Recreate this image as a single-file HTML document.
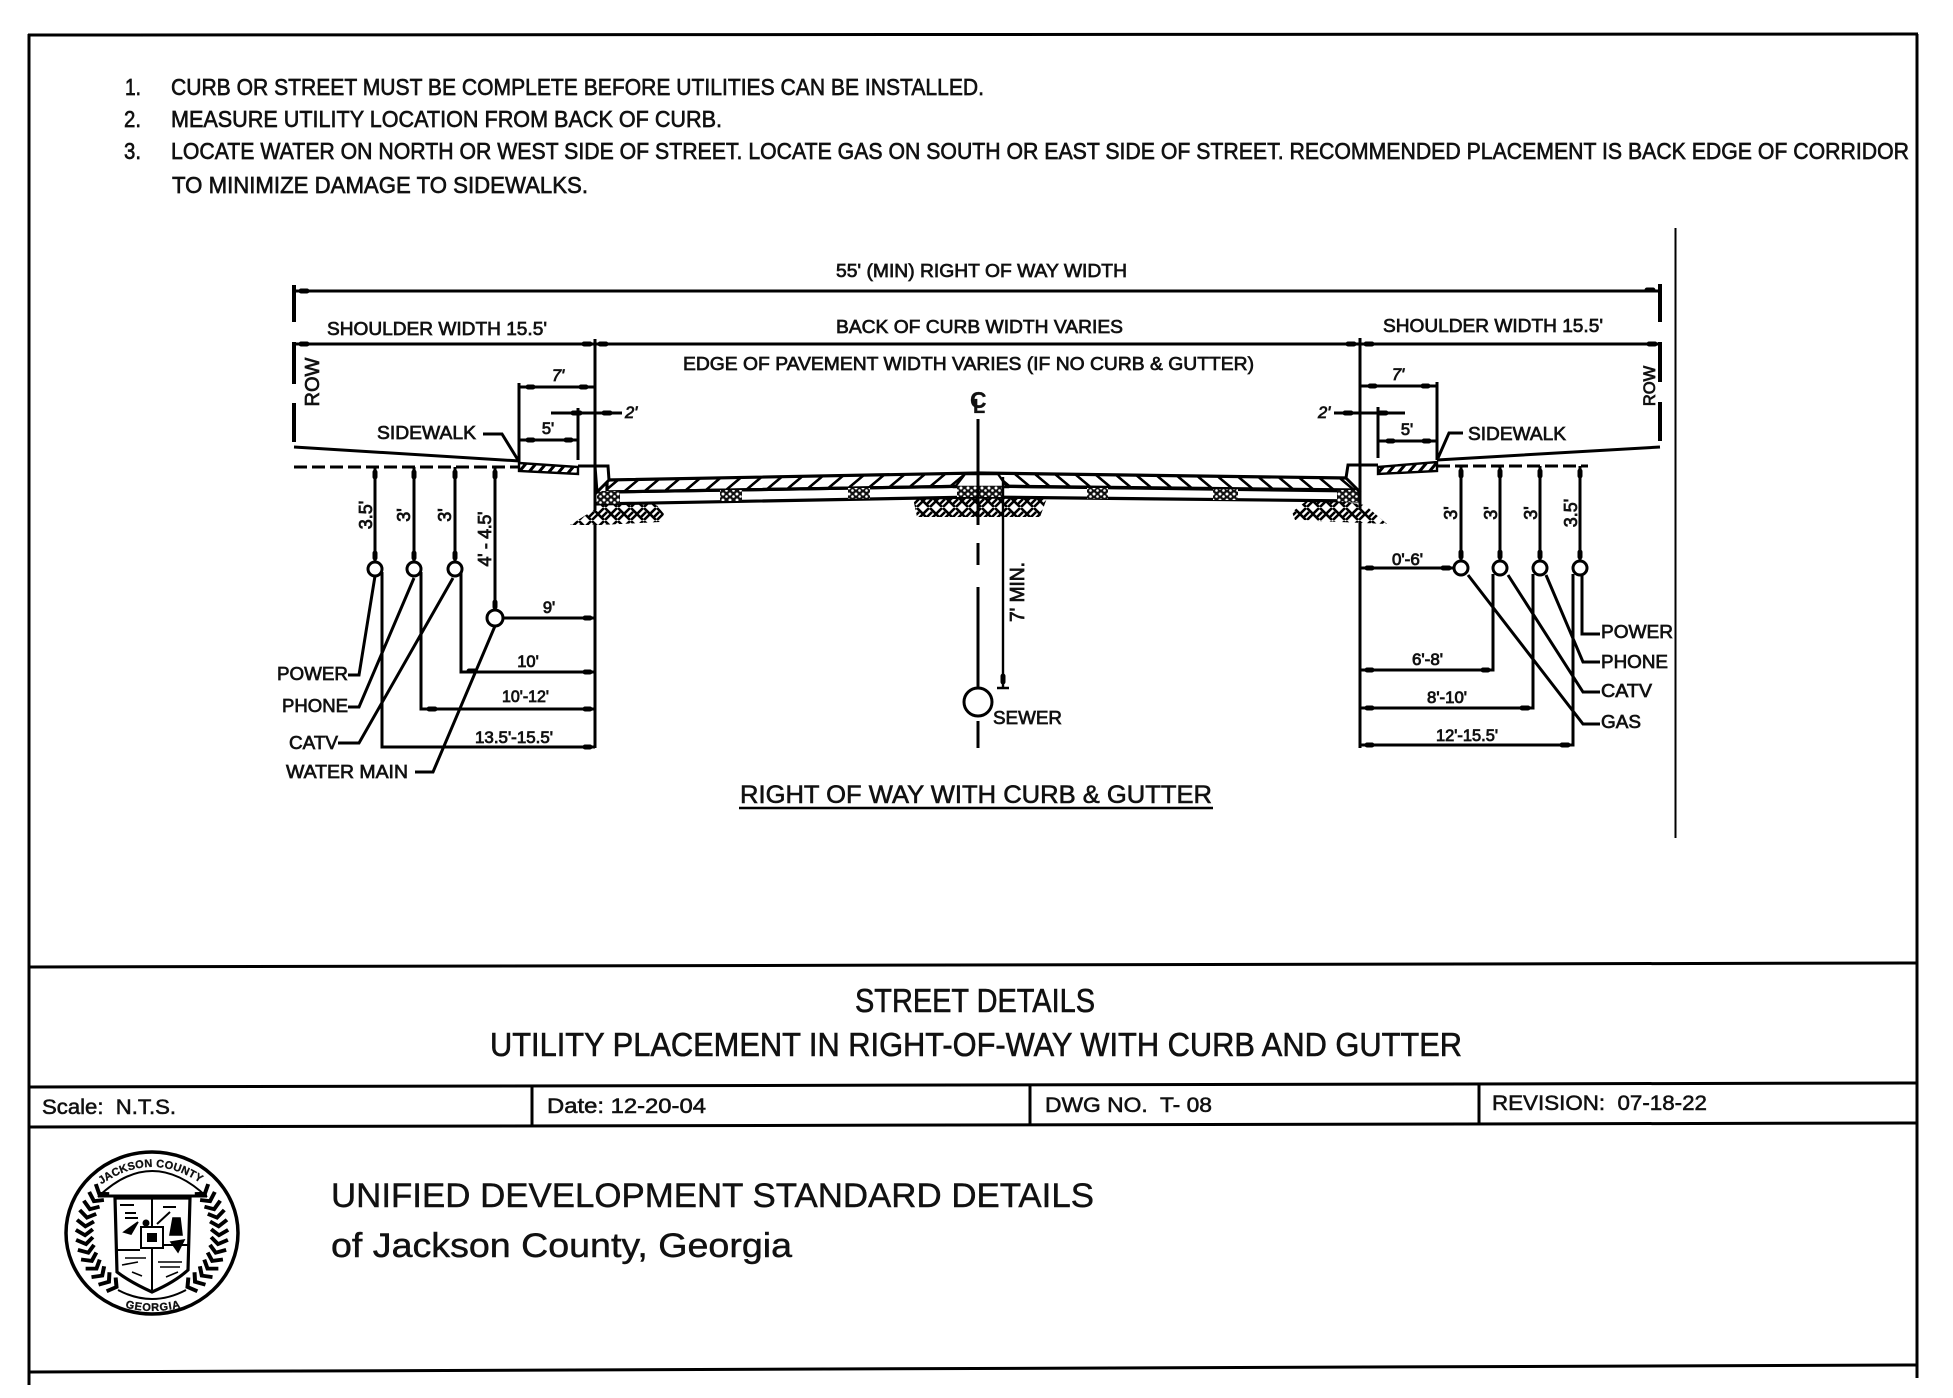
<!DOCTYPE html>
<html lang="en">
<head>
<meta charset="utf-8">
<title>Street Details T-08</title>
<style>
html,body{margin:0;padding:0;background:#fff}
svg{display:block}
text{font-family:"Liberation Sans",sans-serif;fill:#111;stroke:#111}
.n{font-size:23px;stroke-width:.65px}
.t{font-size:33px;stroke-width:.6px}
.c{font-size:21px;stroke-width:.55px;white-space:pre}
.u{font-size:34px;stroke-width:.45px}
.d{font-size:18.5px;stroke-width:.7px}
.s{font-size:16.5px;stroke-width:.8px}
.r{font-size:18px;stroke-width:.8px}
.l{stroke:#000;fill:none;stroke-width:3}
.f{stroke:#000;fill:none;stroke-width:3}
.a{stroke:#000;fill:none;stroke-width:5;stroke-linecap:round}
</style>
</head>
<body>
<svg xmlns="http://www.w3.org/2000/svg" width="1953" height="1398" viewBox="0 0 1953 1398">
<defs>
<pattern id="hl" patternUnits="userSpaceOnUse" width="20" height="20" patternTransform="skewX(-50)"><rect x="8" width="4" height="20" fill="#000"/></pattern>
<pattern id="hr" patternUnits="userSpaceOnUse" width="20" height="20" patternTransform="skewX(50)"><rect x="8" width="4" height="20" fill="#000"/></pattern>
<pattern id="hs" patternUnits="userSpaceOnUse" width="10" height="10" patternTransform="skewX(-40)"><rect x="3" width="4" height="10" fill="#000"/></pattern>
<pattern id="ex" patternUnits="userSpaceOnUse" width="13" height="13"><rect width="13" height="13" fill="#fff"/><path d="M0,7 L6,1 M3,11 L9,5 M7,13 L13,7 M7,1 L13,7 M0,7 L6,13" stroke="#000" stroke-width="2.6"/></pattern>
<pattern id="st" patternUnits="userSpaceOnUse" width="7" height="6"><rect width="7" height="6" fill="#111"/><circle cx="2" cy="2" r="1.5" fill="#fff"/><circle cx="5.5" cy="4.5" r="1.3" fill="#fff"/></pattern>
<path id="lf" d="M-76,-6 L-67,0 L-59,-6" fill="none" stroke="#000" stroke-width="4"/>
<path id="lg" d="M76,-6 L67,0 L59,-6" fill="none" stroke="#000" stroke-width="4"/>
</defs>
<rect width="1953" height="1398" fill="#fff"/>

<!-- frame -->
<g class="f">
<path class="f" d="M29,34 V1385"/>
<path class="f" d="M1917,34 V1378"/>
<path class="f" d="M28,35 L1918,34"/>
<path class="f" d="M29,967 L1917,963"/>
<path class="f" d="M29,1087 L1917,1083"/>
<path class="f" d="M29,1127 L1917,1123"/>
<path class="f" d="M29,1372 L1917,1365"/>
<path class="f" d="M532,1086 V1127"/>
<path class="f" d="M1030,1085 V1125"/>
<path class="f" d="M1479,1084 V1124"/>
</g>

<!-- notes -->
<text class="n" x="125" y="95" textLength="16" lengthAdjust="spacingAndGlyphs">1.</text>
<text class="n" x="171" y="95" textLength="813" lengthAdjust="spacingAndGlyphs">CURB OR STREET MUST BE COMPLETE BEFORE UTILITIES CAN BE INSTALLED.</text>
<text class="n" x="124" y="127" textLength="17" lengthAdjust="spacingAndGlyphs">2.</text>
<text class="n" x="171" y="127" textLength="551" lengthAdjust="spacingAndGlyphs">MEASURE UTILITY LOCATION FROM BACK OF CURB.</text>
<text class="n" x="124" y="159" textLength="17" lengthAdjust="spacingAndGlyphs">3.</text>
<text class="n" x="171" y="159" textLength="1738" lengthAdjust="spacingAndGlyphs">LOCATE WATER ON NORTH OR WEST SIDE OF STREET. LOCATE GAS ON SOUTH OR EAST SIDE OF STREET. RECOMMENDED PLACEMENT IS BACK EDGE OF CORRIDOR</text>
<text class="n" x="172" y="193" textLength="416" lengthAdjust="spacingAndGlyphs">TO MINIMIZE DAMAGE TO SIDEWALKS.</text>

<!-- title block -->
<text class="t" x="855" y="1012" textLength="240" lengthAdjust="spacingAndGlyphs">STREET DETAILS</text>
<text class="t" x="490" y="1056" textLength="972" lengthAdjust="spacingAndGlyphs">UTILITY PLACEMENT IN RIGHT-OF-WAY WITH CURB AND GUTTER</text>
<text class="c" x="42" y="1114" textLength="134" lengthAdjust="spacingAndGlyphs">Scale:  N.T.S.</text>
<text class="c" x="547" y="1113" textLength="159" lengthAdjust="spacingAndGlyphs">Date: 12-20-04</text>
<text class="c" x="1045" y="1112" textLength="167" lengthAdjust="spacingAndGlyphs">DWG NO.  T- 08</text>
<text class="c" x="1492" y="1110" textLength="215" lengthAdjust="spacingAndGlyphs">REVISION:  07-18-22</text>
<text class="u" x="331" y="1207" textLength="763" lengthAdjust="spacingAndGlyphs">UNIFIED DEVELOPMENT STANDARD DETAILS</text>
<text class="u" x="331" y="1257" textLength="461" lengthAdjust="spacingAndGlyphs">of Jackson County, Georgia</text>

<!-- seal -->
<ellipse cx="152" cy="1233" rx="86" ry="81" fill="#fff" stroke="#000" stroke-width="3.5"/>
<g transform="translate(152,1233) scale(1,.95)">
<use href="#lf" transform="rotate(38)"/><use href="#lf" transform="rotate(30)"/><use href="#lf" transform="rotate(22)"/><use href="#lf" transform="rotate(14)"/><use href="#lf" transform="rotate(6)"/><use href="#lf" transform="rotate(-2)"/><use href="#lf" transform="rotate(-10)"/><use href="#lf" transform="rotate(-18)"/><use href="#lf" transform="rotate(-26)"/><use href="#lf" transform="rotate(-34)"/><use href="#lf" transform="rotate(-42)"/><use href="#lf" transform="rotate(-50)"/><use href="#lf" transform="rotate(-58)"/>
<use href="#lg" transform="rotate(-38)"/><use href="#lg" transform="rotate(-30)"/><use href="#lg" transform="rotate(-22)"/><use href="#lg" transform="rotate(-14)"/><use href="#lg" transform="rotate(-6)"/><use href="#lg" transform="rotate(2)"/><use href="#lg" transform="rotate(10)"/><use href="#lg" transform="rotate(18)"/><use href="#lg" transform="rotate(26)"/><use href="#lg" transform="rotate(34)"/><use href="#lg" transform="rotate(42)"/><use href="#lg" transform="rotate(50)"/><use href="#lg" transform="rotate(58)"/>
</g>
<path d="M98,1197 Q152,1145 207,1197" fill="none" stroke="#000" stroke-width="2"/>
<path d="M118,1290 Q152,1308 186,1290" fill="none" stroke="#000" stroke-width="2"/>
<path id="ar1" d="M94,1190 Q152,1144 210,1190" fill="none"/>
<path id="ar2" d="M120,1306 Q152,1316 186,1306" fill="none"/>
<text font-size="11" font-weight="bold" style="stroke-width:.3px"><textPath href="#ar1" startOffset="7%" textLength="106" lengthAdjust="spacing">JACKSON COUNTY</textPath></text>
<text font-size="11" font-weight="bold" style="stroke-width:.3px"><textPath href="#ar2" startOffset="8%" textLength="56" lengthAdjust="spacing">GEORGIA</textPath></text>
<path d="M98,1196 H207" stroke="#000" stroke-width="3"/>
<path d="M115,1198 L117,1272 Q130,1282 152,1292 Q175,1282 188,1270 L190,1198 Z" fill="#fff" stroke="#000" stroke-width="3.2"/>
<path d="M152,1198 V1227 M152,1248 V1290 M118,1250 H140 M163,1245 H188 M120,1205 H134 M125,1213 H136 M125,1218 H138 M163,1207 H176 M157,1224 L170,1212" fill="none" stroke="#000" stroke-width="2"/>
<rect x="141" y="1227" width="22" height="21" fill="#fff" stroke="#000" stroke-width="2"/>
<rect x="147" y="1233" width="10" height="9" fill="#000"/>
<circle cx="146" cy="1223" r="3.5" fill="#000"/>
<path d="M124,1232 L138,1222 L131,1234 Z M173,1218 L180,1218 L182,1235 L170,1235 Z M171,1242 L184,1240 L178,1252 Z M125,1258 H146 M122,1265 L138,1262 M158,1262 H182 M160,1267 H180 M132,1272 L142,1276 M166,1277 L178,1272" fill="#000" stroke="#000" stroke-width="1.6"/>

<!-- right vertical rule -->
<path d="M1675.5,228 V838" stroke="#000" stroke-width="2"/>

<!-- top dims -->
<path class="l" d="M294,291 H1660"/>
<path class="f" style="stroke-width:4" d="M294,285 V322 M294,342 V384 M294,403 V442"/>
<path class="f" style="stroke-width:4" d="M1660,284 V322 M1660,342 V382 M1660,402 V441"/>
<path class="l" d="M294,344 H1660"/>
<path class="l" d="M595,339 V748"/>
<path class="l" d="M1360,338 V748"/>
<path class="a" d="M301,291 H307 M1647,290 H1653 M301,344 H307 M584,344 H590 M600,344 H606 M1348,344 H1354 M1366,344 H1372 M1649,344 H1655"/>

<!-- dims sidewalk left -->
<path class="l" d="M519,383 V462 M519,387 H595 M519,440 H578 M578,408 V460 M551,413 H622"/>
<path class="a" d="M528,387 H533 M581,387 H586 M528,440 H533 M566,440 H571 M573,413 H580 M604,413 H610"/>
<!-- dims sidewalk right -->
<path class="l" d="M1437,382 V460 M1360,386 H1437 M1378,441 H1437 M1378,407 V458 M1334,413 H1405"/>
<path class="a" d="M1370,386 H1375 M1423,386 H1428 M1388,441 H1393 M1424,441 H1429 M1345,413 H1351 M1380,413 H1386"/>

<!-- ground lines -->
<path class="l" d="M294,447 L520,461 M1660,447 L1437,460 M578,466 H596 M1360,465 H1378"/>
<path class="l" stroke-dasharray="13,5" d="M294,467 H519"/>
<path class="l" stroke-dasharray="13,5" d="M1437,466 H1588"/>
<polygon points="519,463 578,467 578,474 519,471" fill="url(#hs)" stroke="#000" stroke-width="2.4"/>
<polygon points="1378,467 1437,462 1437,471 1378,474" fill="url(#hs)" stroke="#000" stroke-width="2.4"/>

<!-- earth -->
<polygon points="570,525 597,508 600,503 655,503 664,514 660,522 600,525" fill="url(#ex)"/>
<polygon points="913,498 1047,498 1040,517 917,517" fill="url(#ex)"/>
<polygon points="1305,502 1345,502 1365,505 1387,524 1340,522 1295,520 1292,512" fill="url(#ex)"/>

<!-- road -->
<polygon points="607,492 978,486 1358,491 1358,501 978,497 597,504" fill="#fff" stroke="#000" stroke-width="3.2"/>
<polygon points="607,480 978,473 978,486 607,492" fill="url(#hl)" stroke="#000" stroke-width="3.2"/>
<polygon points="978,473 1347,478 1358,490 978,486" fill="url(#hr)" stroke="#000" stroke-width="3.2"/>
<polygon points="955,487 965,474 998,474 1007,487" fill="#fff" stroke="#000" stroke-width="2.4"/>
<rect x="597" y="491" width="23" height="13" fill="url(#st)"/>
<rect x="720" y="490" width="22" height="11" fill="url(#st)"/>
<rect x="848" y="488" width="22" height="11" fill="url(#st)"/>
<rect x="957" y="486" width="45" height="11" fill="url(#st)"/>
<rect x="1087" y="488" width="21" height="11" fill="url(#st)"/>
<rect x="1213" y="489" width="25" height="11" fill="url(#st)"/>
<rect x="1337" y="490" width="23" height="12" fill="url(#st)"/>
<polygon points="595,466 608,466 609,480 597,492" fill="#fff" stroke="#000" stroke-width="3"/>
<polygon points="1360,465 1348,465 1346,478 1360,492" fill="#fff" stroke="#000" stroke-width="3"/>
<path class="l" d="M595,450 V510 M1360,450 V510"/>

<!-- centerline -->
<path class="l" d="M978,419 V525 M978,543 V565 M978,587 V688 M978,721 V748"/>
<circle cx="978" cy="702" r="14" fill="#fff" stroke="#000" stroke-width="3"/>
<path d="M1003,477 V688 M997,688 H1009" stroke="#000" stroke-width="2.4" fill="none"/>
<path class="a" d="M1003,676 V682"/>

<!-- utilities left -->
<path class="l" d="M375,467 V561 M414,467 V561 M455,467 V561 M495,467 V610 M503,618 H595 M461,572 V672 H595 M421,572 V709 H595 M382,572 V747 H595"/>
<path class="a" d="M375,472 V477 M414,472 V477 M455,472 V477 M495,472 V477 M375,553 V558 M414,553 V558 M455,553 V558 M495,602 V607 M585,618 H590 M469,671 H475 M585,672 H590 M429,709 H435 M585,709 H590 M585,747 H590"/>
<circle cx="375" cy="569" r="7" fill="#fff" stroke="#000" stroke-width="3"/>
<circle cx="414" cy="569" r="7" fill="#fff" stroke="#000" stroke-width="3"/>
<circle cx="455" cy="569" r="7" fill="#fff" stroke="#000" stroke-width="3"/>
<circle cx="495" cy="618" r="8" fill="#fff" stroke="#000" stroke-width="3"/>
<path class="l" d="M375,576 L359,675 H348 M414,578 L359,707 H348 M453,578 L359,743 H338 M495,626 L433,772 H415"/>

<!-- utilities right -->
<path class="l" d="M1461,466 V560 M1500,466 V560 M1540,466 V560 M1580,466 V560 M1360,568 H1454 M1493,574 V670 H1360 M1533,574 V708 H1360 M1573,574 V745 H1360"/>
<path class="a" d="M1461,471 V476 M1500,471 V476 M1540,471 V476 M1580,471 V476 M1461,552 V557 M1500,552 V557 M1540,552 V557 M1580,552 V557 M1367,568 H1372 M1443,568 H1449 M1367,670 H1372 M1483,670 H1488 M1367,708 H1372 M1522,708 H1528 M1367,745 H1372 M1562,745 H1568"/>
<circle cx="1461" cy="568" r="7" fill="#fff" stroke="#000" stroke-width="3"/>
<circle cx="1500" cy="568" r="7" fill="#fff" stroke="#000" stroke-width="3"/>
<circle cx="1540" cy="568" r="7" fill="#fff" stroke="#000" stroke-width="3"/>
<circle cx="1580" cy="568" r="7" fill="#fff" stroke="#000" stroke-width="3"/>
<path class="l" d="M1582,575 V634 H1600 M1546,575 L1583,662 H1600 M1508,575 L1583,692 H1600 M1468,575 L1583,724 H1600"/>

<!-- sidewalk leaders -->
<path class="l" d="M483,434 H502 L518,460 M1463,433 H1449 L1438,458"/>

<!-- diagram labels -->
<text class="d" x="836" y="277" textLength="291" lengthAdjust="spacingAndGlyphs">55' (MIN) RIGHT OF WAY WIDTH</text>
<text class="d" x="327" y="335" textLength="220" lengthAdjust="spacingAndGlyphs">SHOULDER WIDTH 15.5'</text>
<text class="d" x="836" y="333" textLength="287" lengthAdjust="spacingAndGlyphs">BACK OF CURB WIDTH VARIES</text>
<text class="d" x="1383" y="332" textLength="220" lengthAdjust="spacingAndGlyphs">SHOULDER WIDTH 15.5'</text>
<text class="d" x="683" y="370" textLength="571" lengthAdjust="spacingAndGlyphs">EDGE OF PAVEMENT WIDTH VARIES (IF NO CURB &amp; GUTTER)</text>
<text class="d" x="377" y="439" textLength="99" lengthAdjust="spacingAndGlyphs">SIDEWALK</text>
<text class="d" x="1468" y="440" textLength="98" lengthAdjust="spacingAndGlyphs">SIDEWALK</text>
<text class="s" x="558" y="381" text-anchor="middle" font-style="italic">7'</text>
<text class="s" x="548" y="434" text-anchor="middle">5'</text>
<text class="s" x="625" y="418" font-style="italic">2'</text>
<text class="s" x="1398" y="380" text-anchor="middle" font-style="italic">7'</text>
<text class="s" x="1407" y="435" text-anchor="middle">5'</text>
<text class="s" x="1318" y="418" font-style="italic">2'</text>
<text class="d" transform="translate(319,382) rotate(-90)" text-anchor="middle" style="font-size:20px">ROW</text>
<text class="s" transform="translate(1655,386) rotate(-90)" text-anchor="middle">ROW</text>
<text class="r" transform="translate(372,515) rotate(-90)" text-anchor="middle">3.5'</text>
<text class="r" transform="translate(410,515) rotate(-90)" text-anchor="middle">3'</text>
<text class="r" transform="translate(451,515) rotate(-90)" text-anchor="middle">3'</text>
<text class="r" transform="translate(491,539) rotate(-90)" text-anchor="middle" textLength="55" lengthAdjust="spacing">4' - 4.5'</text>
<text class="r" transform="translate(1457,513) rotate(-90)" text-anchor="middle">3'</text>
<text class="r" transform="translate(1497,513) rotate(-90)" text-anchor="middle">3'</text>
<text class="r" transform="translate(1537,513) rotate(-90)" text-anchor="middle">3'</text>
<text class="r" transform="translate(1577,513) rotate(-90)" text-anchor="middle">3.5'</text>
<text class="r" transform="translate(1024,592) rotate(-90)" text-anchor="middle" textLength="60" lengthAdjust="spacingAndGlyphs" style="font-size:20px">7' MIN.</text>
<text x="970" y="408" font-size="23" font-weight="bold" style="stroke-width:.2px">C</text>
<text x="973" y="413" font-size="20" font-weight="bold" style="stroke-width:.2px">L</text>
<text class="d" x="993" y="724" textLength="69" lengthAdjust="spacingAndGlyphs">SEWER</text>
<text class="d" x="277" y="680" textLength="71" lengthAdjust="spacingAndGlyphs">POWER</text>
<text class="d" x="282" y="712" textLength="66" lengthAdjust="spacingAndGlyphs">PHONE</text>
<text class="d" x="289" y="749" textLength="49" lengthAdjust="spacingAndGlyphs">CATV</text>
<text class="d" x="286" y="778" textLength="122" lengthAdjust="spacingAndGlyphs">WATER MAIN</text>
<text class="d" x="1601" y="638" textLength="72" lengthAdjust="spacingAndGlyphs">POWER</text>
<text class="d" x="1601" y="668" textLength="67" lengthAdjust="spacingAndGlyphs">PHONE</text>
<text class="d" x="1601" y="697" textLength="51" lengthAdjust="spacingAndGlyphs">CATV</text>
<text class="d" x="1601" y="728" textLength="40" lengthAdjust="spacingAndGlyphs">GAS</text>
<text class="s" x="549" y="613" text-anchor="middle">9'</text>
<text class="s" x="528" y="667" text-anchor="middle">10'</text>
<text class="s" x="502" y="702" textLength="47" lengthAdjust="spacingAndGlyphs">10'-12'</text>
<text class="s" x="475" y="743" textLength="78" lengthAdjust="spacingAndGlyphs">13.5'-15.5'</text>
<text class="s" x="1392" y="565" textLength="31" lengthAdjust="spacingAndGlyphs">0'-6'</text>
<text class="s" x="1412" y="665" textLength="31" lengthAdjust="spacingAndGlyphs">6'-8'</text>
<text class="s" x="1427" y="703" textLength="40" lengthAdjust="spacingAndGlyphs">8'-10'</text>
<text class="s" x="1436" y="741" textLength="62" lengthAdjust="spacingAndGlyphs">12'-15.5'</text>
<text x="740" y="803" font-size="25" textLength="472" lengthAdjust="spacingAndGlyphs" style="stroke-width:.6px">RIGHT OF WAY WITH CURB &amp; GUTTER</text>
<path d="M739,808 H1213" stroke="#000" stroke-width="2.4"/>
</svg>
</body>
</html>
